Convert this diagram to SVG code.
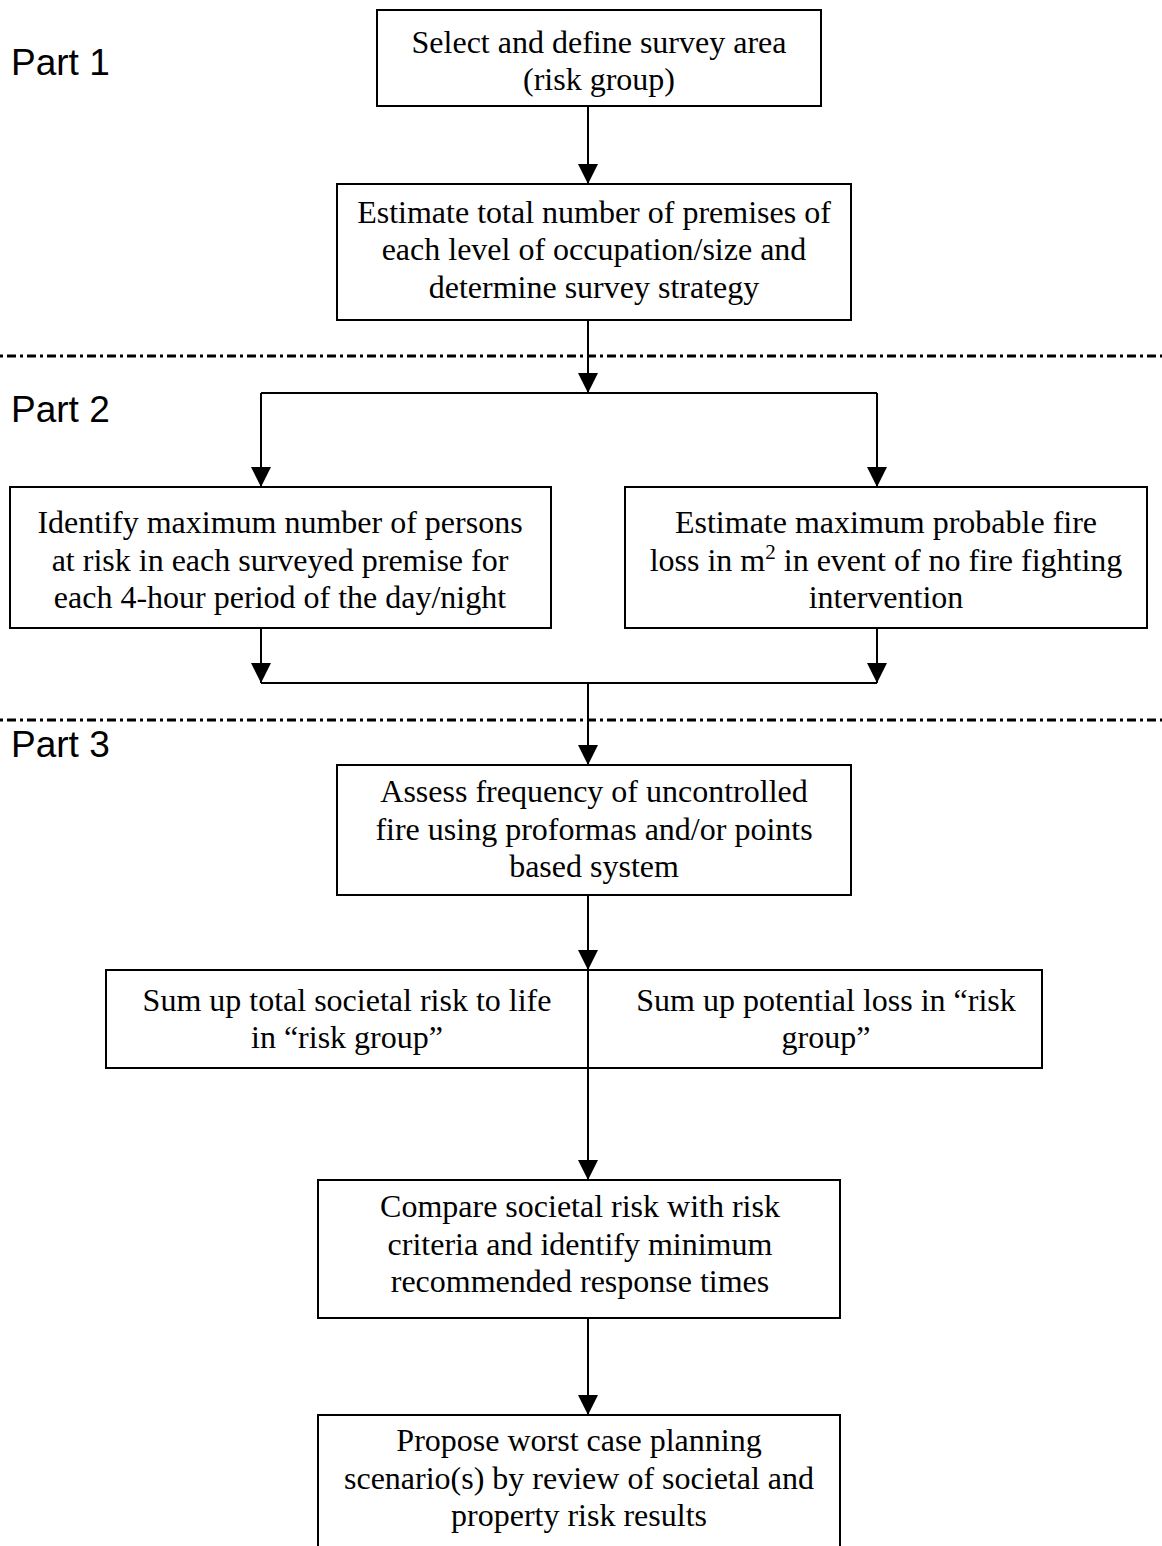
<svg xmlns="http://www.w3.org/2000/svg" width="1162" height="1546" viewBox="0 0 1162 1546">
  <style>
    .box { fill: #fff; stroke: #000; stroke-width: 2; }
    .t { font-family: "Liberation Serif", "Times New Roman", serif; font-size: 32px; fill: #000; text-anchor: middle; }
    .part { font-family: "Liberation Sans", Arial, sans-serif; font-size: 37px; fill: #000; }
    .conn { fill: none; stroke: #000; stroke-width: 2; }
    .sep { fill: none; stroke: #000; stroke-width: 3; stroke-dasharray: 3 4 9 4; }
  </style>
  <defs>
    <marker id="arrow" viewBox="0 0 20 20" refX="20" refY="10" markerWidth="20" markerHeight="20" markerUnits="userSpaceOnUse" orient="auto">
      <path d="M0,0 L20,10 L0,20 z" fill="#000"/>
    </marker>
  </defs>
  <rect width="1162" height="1546" fill="#fff"/>

  <g id="separators">
    <line class="sep" x1="0" y1="356" x2="1162" y2="356"/>
    <line class="sep" x1="0" y1="720" x2="1162" y2="720"/>
  </g>

  <g id="labels">
    <text class="part" x="11" y="75">Part 1</text>
    <text class="part" x="11" y="422">Part 2</text>
    <text class="part" x="11" y="757">Part 3</text>
  </g>

  <g id="connectors">
    <line class="conn" x1="588" y1="106" x2="588" y2="184" marker-end="url(#arrow)"/>
    <line class="conn" x1="588" y1="320" x2="588" y2="393" marker-end="url(#arrow)"/>
    <line class="conn" x1="261" y1="393" x2="877" y2="393"/>
    <line class="conn" x1="261" y1="393" x2="261" y2="487" marker-end="url(#arrow)"/>
    <line class="conn" x1="877" y1="393" x2="877" y2="487" marker-end="url(#arrow)"/>
    <line class="conn" x1="261" y1="628" x2="261" y2="683" marker-end="url(#arrow)"/>
    <line class="conn" x1="877" y1="628" x2="877" y2="683" marker-end="url(#arrow)"/>
    <line class="conn" x1="261" y1="683" x2="877" y2="683"/>
    <line class="conn" x1="588" y1="683" x2="588" y2="765" marker-end="url(#arrow)"/>
    <line class="conn" x1="588" y1="895" x2="588" y2="970" marker-end="url(#arrow)"/>
    <line class="conn" x1="588" y1="1068" x2="588" y2="1180" marker-end="url(#arrow)"/>
    <line class="conn" x1="588" y1="1318" x2="588" y2="1415" marker-end="url(#arrow)"/>
  </g>

  <g id="node-select">
    <rect class="box" x="377" y="10" width="444" height="96"/>
    <text class="t" x="599" y="53">Select and define survey area</text>
    <text class="t" x="599" y="90">(risk group)</text>
  </g>

  <g id="node-estimate-premises">
    <rect class="box" x="337" y="184" width="514" height="136"/>
    <text class="t" x="594" y="223">Estimate total number of premises of</text>
    <text class="t" x="594" y="260">each level of occupation/size and</text>
    <text class="t" x="594" y="298">determine survey strategy</text>
  </g>

  <g id="node-identify-persons">
    <rect class="box" x="10" y="487" width="541" height="141"/>
    <text class="t" x="280" y="533">Identify maximum number of persons</text>
    <text class="t" x="280" y="571">at risk in each surveyed premise for</text>
    <text class="t" x="280" y="608">each 4-hour period of the day/night</text>
  </g>

  <g id="node-fire-loss">
    <rect class="box" x="625" y="487" width="522" height="141"/>
    <text class="t" x="886" y="533">Estimate maximum probable fire</text>
    <text class="t" x="886" y="571">loss in m<tspan font-size="21" dy="-12">2</tspan><tspan dy="12"> in event of no fire fighting</tspan></text>
    <text class="t" x="886" y="608">intervention</text>
  </g>

  <g id="node-assess-frequency">
    <rect class="box" x="337" y="765" width="514" height="130"/>
    <text class="t" x="594" y="802">Assess frequency of uncontrolled</text>
    <text class="t" x="594" y="840">fire using proformas and/or points</text>
    <text class="t" x="594" y="877">based system</text>
  </g>

  <g id="node-sum-up">
    <rect class="box" x="106" y="970" width="936" height="98"/>
    <line class="conn" x1="588" y1="970" x2="588" y2="1068"/>
    <text class="t" x="347" y="1011">Sum up total societal risk to life</text>
    <text class="t" x="347" y="1048">in “risk group”</text>
    <text class="t" x="826" y="1011">Sum up potential loss in “risk</text>
    <text class="t" x="826" y="1048">group”</text>
  </g>

  <g id="node-compare">
    <rect class="box" x="318" y="1180" width="522" height="138"/>
    <text class="t" x="580" y="1217">Compare societal risk with risk</text>
    <text class="t" x="580" y="1255">criteria and identify minimum</text>
    <text class="t" x="580" y="1292">recommended response times</text>
  </g>

  <g id="node-propose">
    <rect class="box" x="318" y="1415" width="522" height="160"/>
    <text class="t" x="579" y="1451">Propose worst case planning</text>
    <text class="t" x="579" y="1489">scenario(s) by review of societal and</text>
    <text class="t" x="579" y="1526">property risk results</text>
  </g>
</svg>
